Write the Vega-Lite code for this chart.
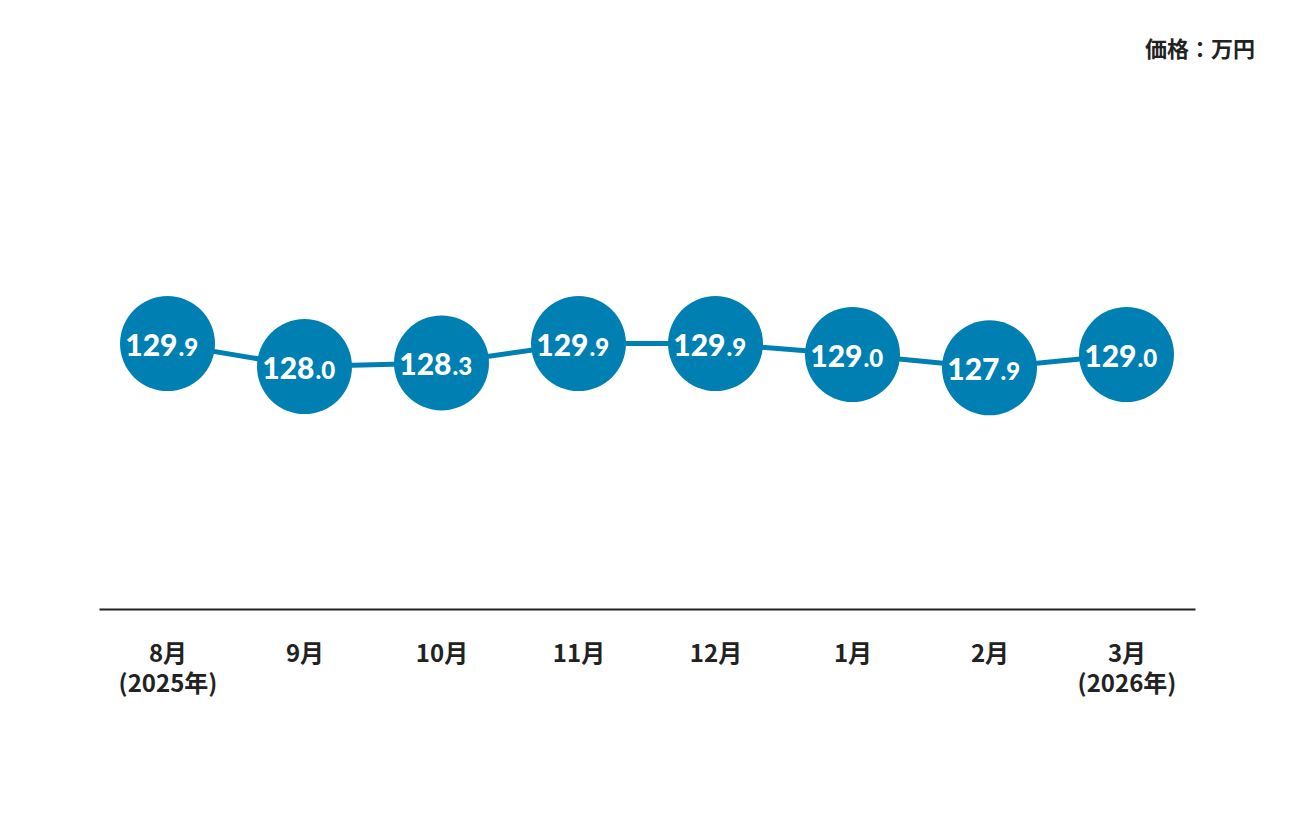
{
  "$schema": "https://vega.github.io/schema/vega-lite/v6.json",
  "autosize": {"type": "none"},
  "width": 1096,
  "height": 509,
  "padding": {"left": 99, "top": 100, "right": 101, "bottom": 207},
  "background": "white",
  "title": {
    "text": "価格：万円",
    "anchor": "end",
    "dx": 60,
    "offset": 38,
    "font": "Noto Sans CJK JP",
    "fontSize": 22,
    "fontWeight": "bold",
    "color": "#222222"
  },
  "config": {"view": {"stroke": null}},
  "data": {
    "values": [
      {"month": "8月|(2025年)", "price": 129.9, "int": "129", "dec": ".9"},
      {"month": "9月", "price": 128.0, "int": "128", "dec": ".0"},
      {"month": "10月", "price": 128.3, "int": "128", "dec": ".3"},
      {"month": "11月", "price": 129.9, "int": "129", "dec": ".9"},
      {"month": "12月", "price": 129.9, "int": "129", "dec": ".9"},
      {"month": "1月", "price": 129.0, "int": "129", "dec": ".0"},
      {"month": "2月", "price": 127.9, "int": "127", "dec": ".9"},
      {"month": "3月|(2026年)", "price": 129.0, "int": "129", "dec": ".0"}
    ]
  },
  "encoding": {
    "x": {
      "field": "month",
      "type": "ordinal",
      "sort": null,
      "scale": {"type": "point", "padding": 0.5},
      "axis": {
        "title": null,
        "orient": "bottom",
        "labelAngle": 0,
        "ticks": false,
        "domainColor": "#222222",
        "domainWidth": 2,
        "labelExpr": "split(datum.label, '|')",
        "labelFont": "Noto Sans CJK JP",
        "labelFontSize": 24,
        "labelFontWeight": "bold",
        "labelColor": "#222222",
        "labelPadding": 33,
        "labelLineHeight": 30,
        "labelBaseline": "top"
      }
    },
    "y": {
      "field": "price",
      "type": "quantitative",
      "scale": {"domain": [108, 150], "zero": false, "nice": false},
      "axis": null
    }
  },
  "layer": [
    {"mark": {"type": "line", "color": "#0080b2", "strokeWidth": 5}},
    {"mark": {"type": "point", "filled": true, "shape": "circle", "size": 9025, "color": "#0080b2", "opacity": 1}},
    {
      "mark": {"type": "text", "align": "right", "baseline": "alphabetic", "dx": 10, "dy": 12, "font": "Lato", "fontWeight": 900, "fontSize": 30, "color": "white"},
      "encoding": {"text": {"field": "int"}}
    },
    {
      "mark": {"type": "text", "align": "left", "baseline": "alphabetic", "dx": 11, "dy": 12, "font": "Lato", "fontWeight": 900, "fontSize": 24, "color": "white"},
      "encoding": {"text": {"field": "dec"}}
    }
  ]
}
